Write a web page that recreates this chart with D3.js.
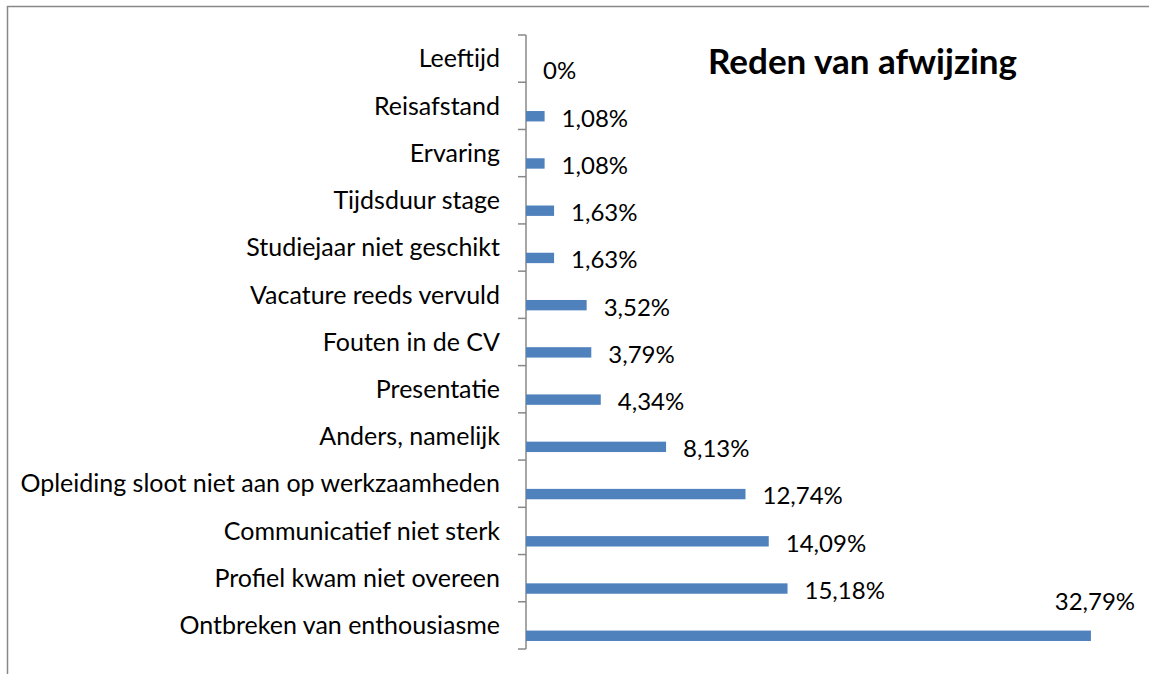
<!DOCTYPE html>
<html>
<head>
<meta charset="utf-8">
<script src="https://cdn.jsdelivr.net/npm/d3@7"></script>
<style>
    body { margin: 0; background: #fff; }
    svg { display: block; font-family: Lato, "Open Sans", sans-serif; }
</style>
</head>
<body>
<svg id="chart" width="1149" height="674"></svg>
<script>
/* Categories from top to bottom, as in the picture */
let categories = [
    'Leeftijd',
    'Reisafstand',
    'Ervaring',
    'Tijdsduur stage',
    'Studiejaar niet geschikt',
    'Vacature reeds vervuld',
    'Fouten in de CV',
    'Presentatie',
    'Anders, namelijk',
    'Opleiding sloot niet aan op werkzaamheden',
    'Communicatief niet sterk',
    'Profiel kwam niet overeen',
    'Ontbreken van enthousiasme'
];
let values = [0, 1.08, 1.08, 1.63, 1.63, 3.52, 3.79, 4.34, 8.13, 12.74, 14.09, 15.18, 32.79];
let labels = ['0%', '1,08%', '1,08%', '1,63%', '1,63%', '3,52%', '3,79%', '4,34%', '8,13%', '12,74%', '14,09%', '15,18%', '32,79%'];
let title = 'Reden van afwijzing';

let width = 1149, height = 674;
let svg = d3.select('#chart');

/* Outer chart border (only the top and left edges are in frame) */
svg.append('rect')
    .attr('x', 7.5).attr('y', 6.5)
    .attr('width', width + 20).attr('height', height + 20)
    .attr('fill', 'none')
    .attr('stroke', '#888')
    .attr('stroke-width', 1.5);

let x = d3.scaleLinear().domain([0, 35]).range([526, 1129]);
let y = d3.scaleBand().domain(categories).range([35, 649]);
let bw = y.bandwidth();

/* Category axis with tick marks between the categories */
let axis = svg.append('g').attr('class', 'axis');
axis.append('line')
    .attr('x1', x(0)).attr('x2', x(0))
    .attr('y1', y.range()[0]).attr('y2', y.range()[1])
    .attr('stroke', '#888').attr('stroke-width', 1.5);
axis.selectAll('.tick')
    .data(d3.range(categories.length + 1))
    .enter()
    .append('line')
    .attr('x1', x(0) - 8).attr('x2', x(0))
    .attr('y1', i => y.range()[0] + i * bw)
    .attr('y2', i => y.range()[0] + i * bw)
    .attr('stroke', '#888').attr('stroke-width', 1.5);

axis.selectAll('.cat')
    .data(categories)
    .enter()
    .append('text')
    .attr('x', x(0) - 26)
    .attr('y', d => y(d) + bw / 2)
    .attr('dy', '0.35em')
    .attr('text-anchor', 'end')
    .attr('font-size', 25)
    .attr('fill', '#000')
    .text(d => d);

/* Bars sit in the lower part of each band */
svg.selectAll('.bar')
    .data(categories)
    .enter()
    .append('rect')
    .attr('class', 'bar')
    .attr('x', x(0))
    .attr('y', d => y(d) + bw * 0.61)
    .attr('width', (d, i) => x(values[i]) - x(0))
    .attr('height', bw * 0.22)
    .attr('fill', '#4f81bd');

/* Value labels: right of the bar, or above its end when they would run off the chart */
svg.selectAll('.val')
    .data(categories)
    .enter()
    .append('text')
    .attr('font-size', 24)
    .attr('fill', '#000')
    .text((d, i) => labels[i])
    .each(function(d, i) {
        let t = d3.select(this);
        let cy = y(d) + bw * 0.72 + 2;
        let lx = x(values[i]) + 17;
        let w = this.getComputedTextLength();
        if (lx + w > width - 5) {
            t.attr('x', x(values[i]) + 4).attr('y', y(d)).attr('dy', '0.35em').attr('text-anchor', 'middle');
        } else {
            t.attr('x', lx).attr('y', cy).attr('dy', '0.35em');
        }
    });

svg.append('text')
    .attr('x', 708)
    .attr('y', 74)
    .attr('font-size', 35)
    .attr('font-weight', 'bold')
    .attr('fill', '#000')
    .text(title);
</script>
</body>
</html>
